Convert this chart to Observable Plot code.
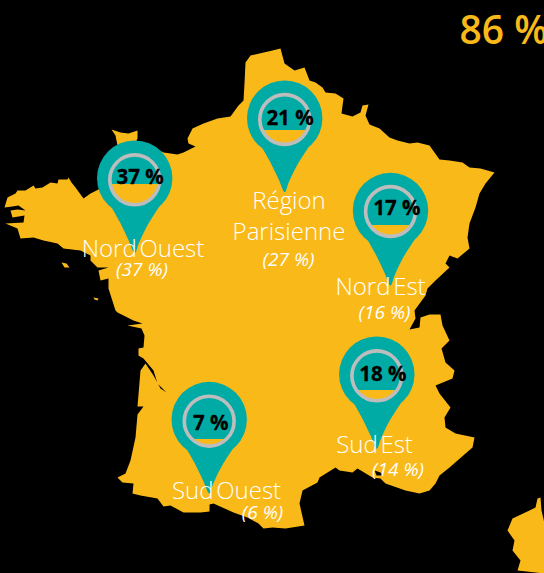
<!DOCTYPE html>
<html><head><meta charset="utf-8">
<script src="https://cdn.jsdelivr.net/npm/d3@7"></script>
<script src="https://cdn.jsdelivr.net/npm/@observablehq/plot@0.6"></script>
<style>
html,body{margin:0;padding:0;background:#000;overflow:hidden}
.tight text{word-spacing:-3.5px}
</style></head><body><div id="chart"></div>
<script>
const GOLD="#F9B919",TEAL="#00ABA5",RING="#BDBDBD";
const mainland=[[4,207],[7,197],[15,193],[17,190],[25,190],[33,185],[35,188],[42,187],[50,182],[57,183],[58,179],[67,179],[68,177],[71,182],[75,187],[83,198],[90,193],[98,189],[112,170],[117,145],[115,135],[111,129],[120,132],[128,133],[137,130],[137,138],[135,142],[150,146],[163,152],[177,154],[183,152],[195,146],[188,143],[187,138],[192,128],[203,123],[217,118],[230,116],[238,105],[243,100],[244,83],[245,62],[250,55],[272,50],[280,48],[284,63],[294,70],[304,67],[309,80],[315,82],[322,87],[325,92],[335,93],[343,98],[341,113],[352,116],[360,112],[362,105],[368,104],[365,115],[369,124],[379,128],[389,137],[397,140],[409,143],[417,142],[429,145],[439,159],[449,160],[462,162],[469,167],[480,168],[494,172],[485,183],[479,193],[475,207],[469,223],[467,237],[469,248],[457,258],[449,255],[445,263],[449,267],[435,280],[427,288],[425,295],[414,310],[415,318],[409,329],[419,327],[420,317],[429,314],[440,314],[442,325],[449,340],[441,348],[445,362],[454,370],[452,378],[435,385],[439,393],[450,407],[444,417],[445,427],[455,433],[474,437],[472,447],[465,453],[449,467],[439,475],[435,483],[429,490],[419,493],[405,490],[385,483],[380,478],[372,477],[357,468],[352,472],[339,470],[335,467],[319,477],[317,482],[302,490],[299,503],[304,525],[285,528],[272,527],[263,528],[258,523],[247,517],[233,512],[213,503],[209,504],[209,511],[200,512],[183,512],[170,505],[163,506],[157,498],[140,495],[132,493],[133,483],[122,482],[117,477],[125,473],[130,460],[135,437],[137,414],[143,406],[137,406],[140,370],[145,363],[153,375],[160,388],[166,392],[157,383],[153,370],[143,358],[138,355],[138,348],[143,347],[144,335],[141,328],[127,325],[142,323],[133,320],[127,317],[117,312],[115,310],[108,288],[108,278],[100,280],[98,270],[108,267],[97,267],[90,260],[90,255],[80,250],[63,248],[57,243],[43,240],[33,237],[20,238],[17,228],[5,223],[23,222],[24,215],[12,217],[10,210],[17,209],[25,210],[18,205],[12,206]];
const corsica=[[537,498],[540,497],[541,510],[544,523],[544,573],[517,570],[520,560],[512,550],[514,540],[507,530],[512,518],[529,510],[535,507]];
const belleIle=[[61,262],[66,263],[69,267],[64,267]];
const yeu=[[93,297],[98,298],[97,300],[94,299]];
const berre=[[374,470],[380,472],[382,475],[376,475]];
const regions=[["mainland",mainland,GOLD],["corsica",corsica,GOLD],["belleIle",belleIle,GOLD],["yeu",yeu,GOLD],["berre",berre,"#000"]];

const pinShare=["37 %","21 %","17 %","7 %","18 %"];
const pinX=[134.2,284.2,390,208.7,376.3];
const pinY=[177.7,117.7,210,419,373.7];
const ringY=[179.3,119,211,420.7,375.3];
const levelY=[184,130,225,439,390];
const tipY=[253,191.7,285,493,448.3];
const labelX=[139.7,289.5,396.3,210.3,382.3];
const labelY=[183.7,124.5,214,429,380];
const pinOutline=[[-25,26],[-15,44],[-6,63],[0,76],[4,66],[12,49],[25,28]];

const pins=pinX.map((x,i)=>({x,y:pinY[i],ry:ringY[i],level:levelY[i],label:pinShare[i],tip:tipY[i],lx:labelX[i],ly:labelY[i]}));
const drops=pins.flatMap((p,i)=>pinOutline.map(([dx,dy])=>({i,x:p.x+dx,y:p.y+dy*(p.tip-p.y)/76})));

const names=[["Nord Ouest",142.5,256],["Région",288.5,208],["Parisienne",288.5,239],["Nord Est",380,294],["Sud Est",374,452],["Sud Ouest",226,498]];
const shares=[["(37 %)",141.5,275.5],["(27 %)",288,265.5],["(16 %)",384,318],["(14 %)",397.5,475],["(6 %)",262,518]];
const headline="86 %";

const land=regions.map(([k,pts,fill])=>Plot.line(pts,{x:d=>d[0],y:d=>d[1],fill,stroke:null,curve:"linear"}));
const fig=Plot.plot({
  width:544,height:573,margin:0,
  style:{background:"#000",fontFamily:"'Open Sans',sans-serif"},
  x:{domain:[0,544],range:[0,544],axis:null},
  y:{domain:[0,573],range:[0,573],axis:null},
  marks:[
    ...land,
    Plot.line(drops,{x:"x",y:"y",z:"i",fill:TEAL,stroke:null,curve:"catmull-rom"}),
    Plot.dot(pins,{x:"x",y:"y",r:37.7,fill:TEAL}),
    Plot.dot(pins,{x:"x",y:"ry",r:25,fill:GOLD}),
    Plot.rect(pins,{x1:d=>d.x-26,x2:d=>d.x+26,y1:d=>d.ry-26,y2:"level",fill:TEAL,inset:0}),
    Plot.dot(pins,{x:"x",y:"ry",r:24.9,stroke:RING,strokeWidth:3.6,fill:"none"}),
    Plot.text(pins,{x:"lx",y:"ly",text:"label",fill:"#000",stroke:"#000",strokeWidth:0.3,fontSize:20.5,fontWeight:700,textAnchor:"middle",lineAnchor:"bottom"}),
    Plot.text(names,{x:d=>d[1],y:d=>d[2],text:d=>d[0],fill:"#fff",fontSize:24,fontWeight:300,textAnchor:"middle",lineAnchor:"bottom",className:"tight"}),
    Plot.text(shares,{x:d=>d[1],y:d=>d[2],text:d=>d[0],fill:"#fff",fontSize:19,fontStyle:"italic",fontWeight:400,textAnchor:"middle",lineAnchor:"bottom"}),
    Plot.text([headline],{x:()=>459,y:()=>43.5,text:d=>d,fill:GOLD,fontSize:39,fontWeight:600,textAnchor:"start",lineAnchor:"bottom"})
  ]
});
document.getElementById("chart").append(fig);
</script></body></html>
